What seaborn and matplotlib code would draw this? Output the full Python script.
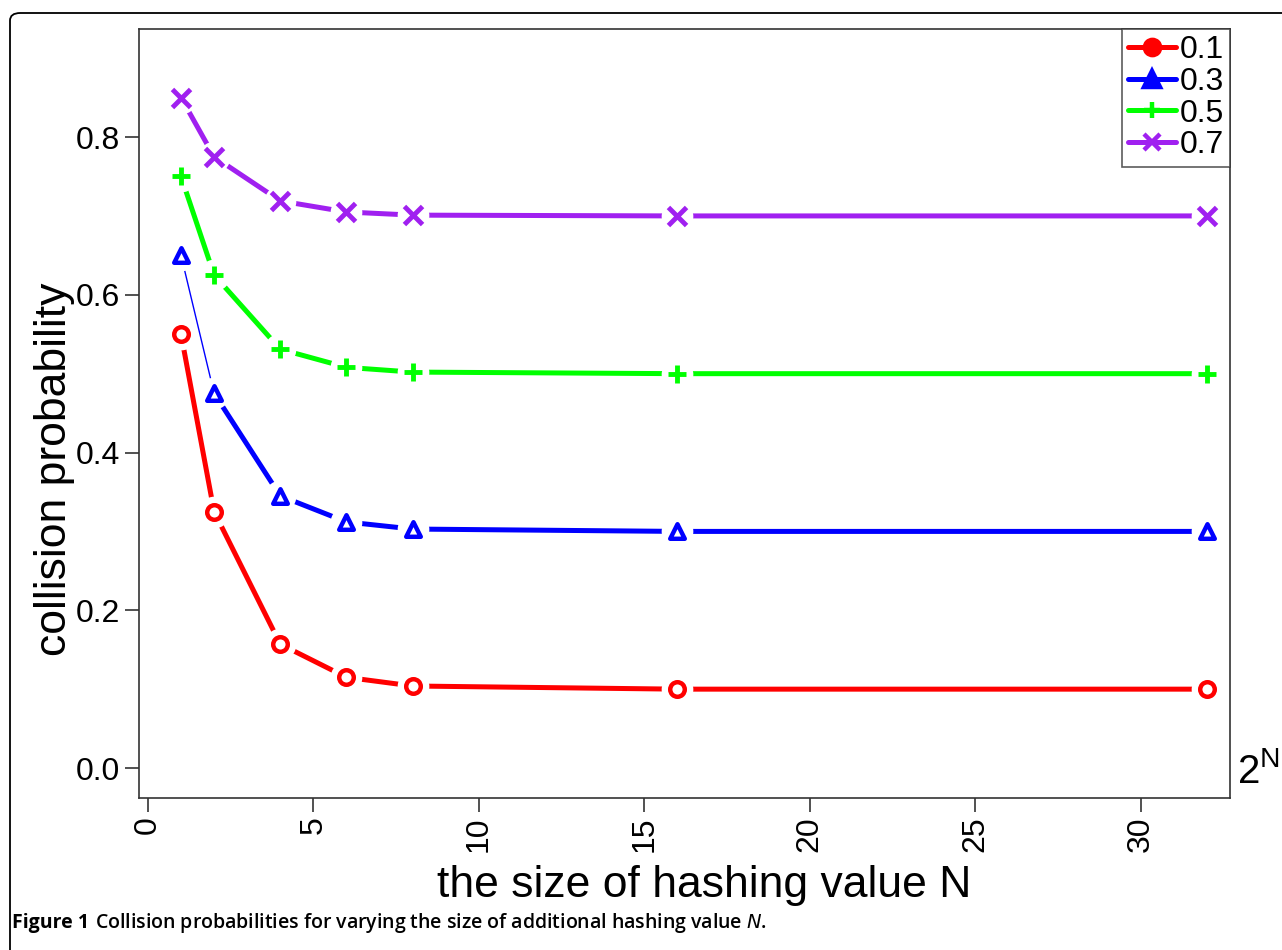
import pandas as pd
import matplotlib.pyplot as plt
import seaborn as sns
from matplotlib.lines import Line2D
from matplotlib.patches import FancyBboxPatch

# dados
n_values = [1, 2, 4, 6, 8, 16, 32]
p01 = [0.55, 0.325, 0.157, 0.115, 0.104, 0.100, 0.100]
p03 = [0.65, 0.475, 0.345, 0.312, 0.303, 0.300, 0.300]
p05 = [0.75, 0.625, 0.531, 0.508, 0.502, 0.500, 0.500]
p07 = [0.85, 0.775, 0.719, 0.705, 0.701, 0.700, 0.700]
series_names = ['0.1', '0.3', '0.5', '0.7']
colors = ['#FF0000', '#0000FF', '#00FF00', '#A020F0']
markers = ['o', '^', '+', 'x']

rows = []
for name, vals in zip(series_names, [p01, p03, p05, p07]):
    for n, v in zip(n_values, vals):
        rows.append({'N': n, 'prob': v, 'serie': name})
df = pd.DataFrame(rows)

sns.set_style("white")
plt.rcParams['font.family'] = ['Liberation Sans', 'DejaVu Sans']
plt.rcParams['text.color'] = 'black'
plt.rcParams['axes.labelcolor'] = 'black'
plt.rcParams['xtick.color'] = 'black'
plt.rcParams['ytick.color'] = 'black'

fig = plt.figure(figsize=(12.82, 9.5), dpi=100)
ax = fig.add_axes([139 / 1282, 152 / 950, (1230 - 139) / 1282, (798 - 29) / 950])

# linhas grossas (a primeira ligação da série 0.3 é fina)
thick = df[~((df['serie'] == '0.3') & (df['N'] == 1))]
for name, col in zip(series_names, colors):
    sub = thick[thick['serie'] == name]
    sns.lineplot(data=sub, x='N', y='prob', color=col, linewidth=3.6, ax=ax,
                 legend=False, solid_capstyle='butt')
thin = df[(df['serie'] == '0.3') & (df['N'] <= 2)]
sns.lineplot(data=thin, x='N', y='prob', color='#0000FF', linewidth=1.0, ax=ax, legend=False)

# marcadores com espaço branco em volta (estilo type="b")
sns.scatterplot(data=df, x='N', y='prob', color='white', s=520, marker='o',
                linewidth=0, ax=ax, legend=False, zorder=3)
for name, col, mk in zip(series_names, colors, markers):
    sub = df[df['serie'] == name]
    if mk in ['+', 'x']:
        sns.scatterplot(data=sub, x='N', y='prob', color=col, s=170, marker=mk,
                        linewidth=3.5, ax=ax, legend=False, zorder=4)
    else:
        sns.scatterplot(data=sub, x='N', y='prob', facecolor='white', edgecolor=col,
                        s=110, marker=mk, linewidth=3.2, ax=ax, legend=False, zorder=4)

ax.set_xlim(-0.27, 32.7)
ax.set_ylim(-0.038, 0.937)
ax.set_xticks([0, 5, 10, 15, 20, 25, 30])
ax.set_yticks([0.0, 0.2, 0.4, 0.6, 0.8])
ax.set_yticklabels(['0.0', '0.2', '0.4', '0.6', '0.8'])
ax.tick_params(axis='both', direction='out', length=10, width=1.2, labelsize=23,
               left=True, bottom=True, color='#333333')
ax.tick_params(axis='x', labelrotation=90)
for sp in ax.spines.values():
    sp.set_color('#333333')
    sp.set_linewidth(1.2)

ax.set_xlabel('the size of hashing value N', fontsize=32)
ax.set_ylabel('collision probability', fontsize=32)
ax.xaxis.set_label_coords((704 - 139) / 1091, -(885 - 798) / 769)
ax.yaxis.set_label_coords(-(139 - 55) / 1091, (798 - 469) / 769)
ax.xaxis.label.set_va('center')
ax.yaxis.label.set_va('center')

# legenda
handles = [Line2D([0], [0], color=c, lw=3.6, marker=m, markersize=11,
                  markeredgewidth=3.2, markerfacecolor=c)
           for c, m in zip(colors, markers)]
leg = ax.legend(handles, series_names, loc='upper right', borderaxespad=0,
                fontsize=23, frameon=True, fancybox=False, handlelength=1.5,
                handletextpad=0.1, labelspacing=0.05, borderpad=0.2)
leg.get_frame().set_edgecolor('#333333')
leg.get_frame().set_linewidth(1.2)

ax.text(1.006, 0.035, r'2$^{\mathregular{N}}$', transform=ax.transAxes, fontsize=29,
        ha='left', va='center')

# moldura externa arredondada
frame = FancyBboxPatch((10 / 1282, -0.1), 1.2, 0.1 + (950 - 13) / 950,
                       boxstyle='round,pad=0,rounding_size=0.008',
                       transform=fig.transFigure, fill=False, edgecolor='black',
                       linewidth=1.3, clip_on=False)
fig.patches.append(frame)

cap_y = 1 - 923 / 950
t1 = fig.text(12 / 1282, cap_y, 'Figure 1', fontsize=14, fontweight='bold',
              family=['Open Sans', 'DejaVu Sans'], va='center', ha='left')
fig.canvas.draw()
ext = t1.get_window_extent()
fig.text((ext.x1 + 6) / 1282, cap_y,
         'Collision probabilities for varying the size of additional hashing value $\\mathbf{\\mathit{N}}$.',
         fontsize=14, fontweight='semibold', family=['Open Sans', 'DejaVu Sans'],
         va='center', ha='left')

fig.savefig('out.png', dpi=100)
